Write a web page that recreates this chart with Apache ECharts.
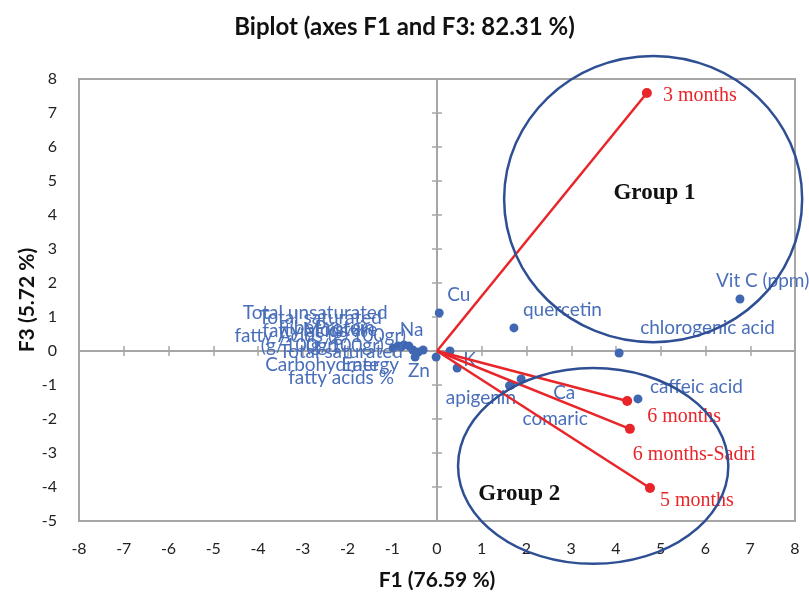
<!DOCTYPE html>
<html>
<head>
<meta charset="utf-8">
<script src="https://cdn.jsdelivr.net/npm/echarts@6/dist/echarts.min.js"></script>
<style>
html, body { margin: 0; padding: 0; background: #fff; }
#biplot { width: 809px; height: 594px; }
</style>
</head>
<body>
<div id="biplot"></div>
<script>
// variables (blue points) - F1 / F3 coordinates
const varLabels = [
    'Vit C (ppm)', 'quercetin', 'Cu', 'chlorogenic acid', 'caffeic acid',
    'Ca', 'apigenin', 'comaric', 'K', '', 'Zn',
    'Total unsaturated\nfatty acids %', 'Total saturated\nfatty acids %',
    'Fiber\n(g/100gr)', 'Protein\n(g/100gr)', 'Na', 'Carbohydrate',
    'Energy', 'Moisture', 'Total saturated\nfatty Acids (g/100gr)'
];
const varF1 = [6.77, 1.72, 0.05, 4.07, 4.49, 1.88, 1.65, 1.62, 0.45, 0.29, -0.02,
    -0.98, -0.87, -0.74, -0.63, -0.54, -0.49, -0.42, -0.31, -0.80];
const varF3 = [1.53, 0.68, 1.12, -0.06, -1.41, -0.82, -1.00, -1.02, -0.50, 0.00, -0.18,
    0.09, 0.15, 0.18, 0.15, 0.03, -0.18, -0.03, 0.03, 0.12];

// observations (red points / vectors)
const obsLabels = ['3 months', '6 months', '6 months-Sadri', '5 months'];
const obsF1 = [4.69, 4.25, 4.31, 4.76];
const obsF3 = [7.59, -1.47, -2.29, -4.03];

// hand drawn groups
const groupNames = ['Group 1', 'Group 2'];
const groupF1 = [4.83, 3.49];
const groupF3 = [4.47, -3.38];
const groupRadF1 = [3.33, 3.02];
const groupRadF3 = [4.21, 2.88];
const groupTextF1 = [4.86, 1.84];
const groupTextF3 = [4.65, -4.20];

// label placement (px offset of first line centre, alignment, line height)
const varPlace = [
    [-24, -18, 'left'], [9, -18, 'left'], [8, -18, 'left'], [21, -25, 'left'], [12, -12, 'left'],
    [32, 14, 'left'], [-65, 13, 'left'], [13, 33, 'left'], [6, -8, 'left'], [0, 0, 'left'], [-28, 14, 'left'],
    [-78, -35, 'center'], [-57, 6, 'center', 26], [-104, -17, 'center'], [-64, -18, 'center'],
    [-13, -20, 'left'], [-93, 8, 'center'], [-48, 13, 'center'], [-83, -20, 'center'], [-81, -29, 'center']
];
const obsPlace = [[16, 4], [20, 17], [3, 27], [10, 14]];

const BLUE = '#4068b2';
const BLUE_TXT = '#4a6fba';
const RED = '#e8262a';
const GREY = '#a6a6a6';

window.addEventListener('load', function () {
    let chart = echarts.init(document.getElementById('biplot'));

    let varData = varF1.map(function (x, i) {
        let p = varPlace[i];
        let lh = p[3] || 18;
        return {
            value: [x, varF3[i]],
            label: {
                show: varLabels[i] !== '',
                formatter: varLabels[i],
                position: [p[0] + 4.5, p[1] - lh / 2 + 4.5],
                align: p[2],
                verticalAlign: 'top',
                lineHeight: lh
            }
        };
    });

    let obsData = obsF1.map(function (x, i) {
        return {
            value: [x, obsF3[i]],
            label: {
                formatter: obsLabels[i],
                position: [obsPlace[i][0] + 5, obsPlace[i][1] + 5 - 11],
                align: 'left',
                verticalAlign: 'top'
            }
        };
    });

    let vectors = obsF1.map(function (x, i) {
        return {
            type: 'line',
            data: [[0, 0], [x, obsF3[i]]],
            showSymbol: false,
            symbol: 'none',
            lineStyle: { color: RED, width: 2.5 },
            z: 4,
            silent: true
        };
    });

    let tickFont = { fontFamily: 'Lato', fontSize: 16, color: '#222' };
    let zeroX = function (inside) {
        return {
            type: 'value', min: -8, max: 8, interval: 1,
            axisLine: { show: true, onZero: true, onZeroAxisIndex: 0, lineStyle: { color: GREY, width: 2 } },
            axisTick: { show: true, inside: inside, length: 5, lineStyle: { color: GREY, width: 1.5 } },
            axisLabel: { show: false },
            splitLine: { show: false }
        };
    };
    let zeroY = function (inside) {
        return {
            type: 'value', min: -5, max: 8, interval: 1,
            axisLine: { show: true, onZero: true, onZeroAxisIndex: 0, lineStyle: { color: GREY, width: 2 } },
            axisTick: { show: true, inside: inside, length: 5, lineStyle: { color: GREY, width: 1.5 } },
            axisLabel: { show: false },
            splitLine: { show: false }
        };
    };

    let option = {
        animation: false,
        title: {
            text: 'Biplot (axes F1 and F3: 82.31 %)',
            left: 'center',
            top: 10,
            textStyle: { fontFamily: 'Lato', fontSize: 24, fontWeight: 'bold', color: '#111' }
        },
        grid: {
            left: 79, right: 14, top: 79, bottom: 73,
            outerBoundsMode: 'none',
            show: true, borderColor: GREY, borderWidth: 2
        },
        xAxis: [
            {
                type: 'value', min: -8, max: 8, interval: 1, position: 'bottom',
                axisLine: { show: false, onZero: false },
                axisTick: { show: false },
                splitLine: { show: false },
                axisLabel: Object.assign({ margin: 20 }, tickFont),
                name: 'F1 (76.59 %)',
                nameLocation: 'middle',
                nameGap: 49,
                nameMoveOverlap: false,
                nameTextStyle: { fontFamily: 'Lato', fontSize: 21, fontWeight: 'bold', color: '#111' }
            },
            zeroX(true),
            zeroX(false)
        ],
        yAxis: [
            {
                type: 'value', min: -5, max: 8, interval: 1, position: 'left',
                axisLine: { show: false, onZero: false },
                axisTick: { show: false },
                splitLine: { show: false },
                axisLabel: Object.assign({ margin: 22 }, tickFont),
                name: 'F3 (5.72 %)',
                nameLocation: 'middle',
                nameGap: 41,
                nameMoveOverlap: false,
                nameTextStyle: { fontFamily: 'Lato', fontSize: 21, fontWeight: 'bold', color: '#111' }
            },
            zeroY(true),
            zeroY(false)
        ],
        series: [
            {
                type: 'scatter',
                data: varData,
                symbolSize: 9,
                itemStyle: { color: BLUE, opacity: 1 },
                label: { color: BLUE_TXT, fontFamily: 'Lato', fontSize: 19 },
                z: 3,
                silent: true
            }
        ].concat(vectors).concat([
            {
                type: 'scatter',
                data: obsData,
                symbolSize: 10,
                itemStyle: { color: RED, opacity: 1 },
                label: { show: true, color: RED, fontFamily: 'Liberation Serif', fontSize: 20 },
                z: 5,
                silent: true
            }
        ])
    };
    chart.setOption(option);

    // ellipses and group names in data units
    let elements = [];
    groupNames.forEach(function (g, i) {
        let c = chart.convertToPixel({ xAxisIndex: 0, yAxisIndex: 0 }, [groupF1[i], groupF3[i]]);
        let e = chart.convertToPixel({ xAxisIndex: 0, yAxisIndex: 0 }, [groupF1[i] + groupRadF1[i], groupF3[i] + groupRadF3[i]]);
        elements.push({
            type: 'ellipse',
            shape: { cx: c[0], cy: c[1], rx: e[0] - c[0], ry: c[1] - e[1] },
            style: { fill: 'none', stroke: '#2f4f94', lineWidth: 2.5 },
            z: 10,
            silent: true
        });
        let t = chart.convertToPixel({ xAxisIndex: 0, yAxisIndex: 0 }, [groupTextF1[i], groupTextF3[i]]);
        elements.push({
            type: 'text',
            x: t[0], y: t[1],
            style: {
                text: g,
                font: 'bold 23px "Liberation Serif"',
                fill: '#111',
                align: 'center', verticalAlign: 'middle',
                textAlign: 'center', textVerticalAlign: 'middle'
            },
            z: 10,
            silent: true
        });
    });
    chart.setOption({ graphic: { elements: elements } });
}, false);
</script>
</body>
</html>
